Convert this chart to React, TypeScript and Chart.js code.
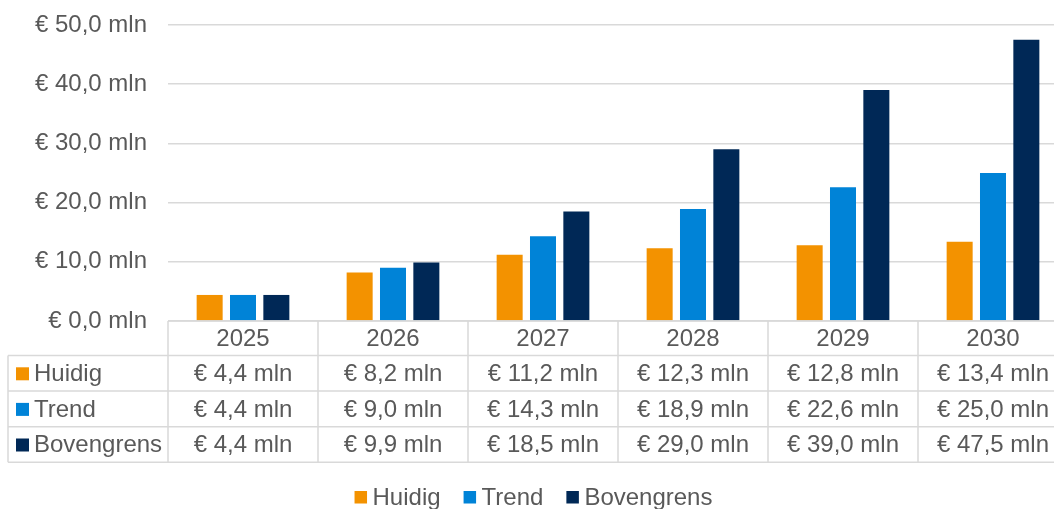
import React, { useEffect, useRef } from "react";
import { Chart, registerables } from "chart.js";

Chart.register(...registerables);

const years = ["2025", "2026", "2027", "2028", "2029", "2030"];
const huidig = [4.4, 8.2, 11.2, 12.3, 12.8, 13.4];
const trend = [4.4, 9.0, 14.3, 18.9, 22.6, 25.0];
const bovengrens = [4.4, 9.9, 18.5, 29.0, 39.0, 47.5];
const seriesNames = ["Huidig", "Trend", "Bovengrens"];
const seriesColors = ["#F39200", "#0083D7", "#002856"];
const yMin = 0;
const yMax = 50;
const yStep = 10;

const FONT = '"Liberation Sans", Arial, sans-serif';
const TEXT = "#595959";
const LINE = "#D9D9D9";
const CANVAS_W = 1080;
const CANVAS_H = 509;

const fmt = (v: number) => "€ " + v.toFixed(1).replace(".", ",") + " mln";

const tablePlugin = {
  id: "dataTable",
  afterDraw(chart: any) {
    const ctx = chart.ctx as CanvasRenderingContext2D;
    const area = chart.chartArea;
    const xs = chart.scales.x;
    const n = years.length;
    const colW = (area.right - area.left) / n;
    const tableLeft = 8;
    const headerH = 34.5;
    const rowH = 35.6;
    const r0 = area.bottom;
    const rows = [r0, r0 + headerH];
    for (let i = 0; i < 3; i++) rows.push(rows[rows.length - 1] + rowH);
    const rEnd = rows[rows.length - 1];

    ctx.save();
    ctx.strokeStyle = LINE;
    ctx.lineWidth = 1.5;
    ctx.beginPath();
    ctx.moveTo(area.left, r0);
    ctx.lineTo(area.right, r0);
    for (let i = 1; i < rows.length; i++) {
      ctx.moveTo(tableLeft, rows[i]);
      ctx.lineTo(area.right, rows[i]);
    }
    for (let k = 0; k <= n; k++) {
      const x = area.left + k * colW;
      ctx.moveTo(x, r0);
      ctx.lineTo(x, rEnd);
    }
    ctx.moveTo(tableLeft, rows[1]);
    ctx.lineTo(tableLeft, rEnd);
    ctx.stroke();

    ctx.font = "24px " + FONT;
    ctx.fillStyle = TEXT;
    ctx.textAlign = "center";
    ctx.textBaseline = "middle";
    years.forEach((y, i) => {
      ctx.fillText(y, xs.getPixelForValue(i), (rows[0] + rows[1]) / 2 + 1);
    });
    const data = chart.data.datasets;
    data.forEach((ds: any, s: number) => {
      const cy = (rows[s + 1] + rows[s + 2]) / 2 + 1;
      ctx.textAlign = "center";
      ctx.fillStyle = TEXT;
      ds.data.forEach((v: number, i: number) => {
        ctx.fillText(fmt(v), xs.getPixelForValue(i), cy);
      });
      ctx.fillStyle = ds.backgroundColor;
      ctx.fillRect(16, cy - 7, 13, 13);
      ctx.fillStyle = TEXT;
      ctx.textAlign = "left";
      ctx.fillText(ds.label, 34, cy);
    });

    // bottom legend
    const sq = 12.5;
    const gapSqText = 5.5;
    const gapItems = 23;
    const widths = data.map((ds: any) => sq + gapSqText + ctx.measureText(ds.label).width);
    const total = widths.reduce((a: number, b: number) => a + b, 0) + gapItems * (widths.length - 1);
    let x = 533.5 - total / 2;
    const ly = 497;
    data.forEach((ds: any, s: number) => {
      ctx.fillStyle = ds.backgroundColor;
      ctx.fillRect(x, ly - 6, sq, sq);
      ctx.fillStyle = TEXT;
      ctx.textAlign = "left";
      ctx.fillText(ds.label, x + sq + gapSqText, ly + 1);
      x += widths[s] + gapItems;
    });
    ctx.restore();
  },
};

export default function App() {
  const ref = useRef<HTMLCanvasElement | null>(null);
  useEffect(() => {
    if (!ref.current) return;
    const series = [huidig, trend, bovengrens];
    const chart = new Chart(ref.current, {
      type: "bar",
      data: {
        labels: years,
        datasets: series.map((d, i) => ({
          label: seriesNames[i],
          data: d,
          backgroundColor: seriesColors[i],
          borderWidth: 0,
          categoryPercentage: 0.667,
          barPercentage: 0.78,
        })),
      },
      options: {
        animation: false,
        responsive: false,
        maintainAspectRatio: false,
        devicePixelRatio: 1,
        layout: { padding: { left: 0, right: CANVAS_W - 1068, top: 25, bottom: CANVAS_H - 321 } },
        plugins: { legend: { display: false }, tooltip: { enabled: false }, title: { display: false } },
        scales: {
          x: { display: false },
          y: {
            min: yMin,
            max: yMax,
            afterFit: (axis: any) => {
              axis.width = 168;
              axis.paddingTop = 0;
              axis.paddingBottom = 0;
            },
            border: { display: false },
            grid: { color: LINE, lineWidth: 1.5, drawTicks: false },
            ticks: {
              stepSize: yStep,
              padding: 21,
              color: TEXT,
              font: { family: FONT, size: 24 },
              callback: (v: any) => fmt(Number(v)),
            },
          },
        },
      },
      plugins: [tablePlugin],
    });
    return () => chart.destroy();
  }, []);
  return (
    <div style={{ position: "fixed", left: 0, top: 0, width: 1054, height: 509, overflow: "hidden", background: "#fff" }}>
      <canvas ref={ref} width={CANVAS_W} height={CANVAS_H} style={{ width: CANVAS_W, height: CANVAS_H, display: "block" }} />
    </div>
  );
}
